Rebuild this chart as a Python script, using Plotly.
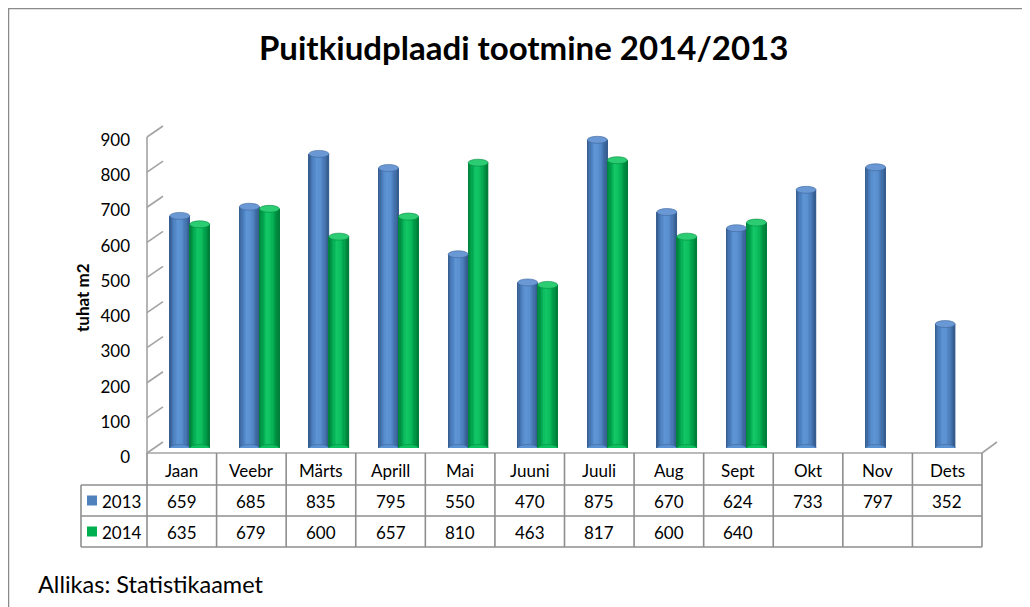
import plotly.graph_objects as go

# ---------------- data ----------------
categories = ["Jaan", "Veebr", "Märts", "Aprill", "Mai", "Juuni", "Juuli", "Aug", "Sept", "Okt", "Nov", "Dets"]
series_names = ["2013", "2014"]
values_2013 = [659, 685, 835, 795, 550, 470, 875, 670, 624, 733, 797, 352]
values_2014 = [635, 679, 600, 657, 810, 463, 817, 600, 640, None, None, None]
y_ticks = [0, 100, 200, 300, 400, 500, 600, 700, 800, 900]
title_text = "Puitkiudplaadi tootmine 2014/2013"
y_title = "tuhat m2"
source_text = "Allikas: Statistikaamet"

# ---------------- layout helpers (screen pixels -> paper) ----------------
W, H = 1030, 607
OFF = 8  # page body margin
def px(x):
    return (x - OFF) / W
def py(y):
    return 1 - (y - OFF) / H

FONT = "Lato, Carlito, 'Liberation Sans', sans-serif"
GRID = "#a3a3a3"
TABLE_LINE = "#8e8e8e"

# back wall (gridlines), front wall edge, bar plane (mid depth)
BACK_X = (163, 997); BACK_Y = (442, 125)
FRONT_X = (147, 982); FRONT_Y = (453, 137)
BAR_X = (155, 990); BAR_Y = (448, 131)
DX, DY = BACK_X[0] - FRONT_X[0], FRONT_Y[0] - BACK_Y[0]
YMAX = y_ticks[-1]

def y_front(v):
    return FRONT_Y[0] - v * (FRONT_Y[0] - FRONT_Y[1]) / YMAX

ncat = len(categories)
cat_px = (BAR_X[1] - BAR_X[0]) / ncat
bar_px = 20.0
bar_w = bar_px / cat_px

# cylinder shading: colour stops across the bar width (style only)
def hex2rgb(h):
    h = h.lstrip('#')
    return [int(h[i:i + 2], 16) for i in (0, 2, 4)]

def shade(stops, n):
    out = []
    for k in range(n):
        t = (k + 0.5) / n * (len(stops) - 1)
        i = min(int(t), len(stops) - 2)
        f = t - i
        a, b = hex2rgb(stops[i]), hex2rgb(stops[i + 1])
        out.append('#%02x%02x%02x' % tuple(round(a[j] + (b[j] - a[j]) * f) for j in range(3)))
    return out

NSTRIPE = 16
blue_stripes = shade(['#355a8a', '#4a7dbd', '#5e95d4', '#5a90cf', '#4676b2', '#34598a'], NSTRIPE)
green_stripes = shade(['#007d3a', '#00a44d', '#14c766', '#0cbe5e', '#009d48', '#007a38'], NSTRIPE)
blue_cap, blue_edge = '#6a98d4', '#3e679c'
green_cap, green_edge = '#2ccd72', '#008a40'

fig = go.Figure()

series = [
    (values_2013, blue_stripes, -bar_w, blue_cap, blue_edge, -bar_px),
    (values_2014, green_stripes, 0.0, green_cap, green_edge, 0.0),
]
for vals, stripes, off0, capc, edgec, offpx in series:
    n = len(stripes)
    for k, col in enumerate(stripes):
        fig.add_trace(go.Bar(
            x=categories, y=vals, width=bar_w / n * 1.15, offset=off0 + k * bar_w / n,
            marker=dict(color=col, line=dict(width=0)),
            xaxis="x3", yaxis="y3", showlegend=False, hoverinfo="skip"))

shapes = []
# cylinder caps (top ellipse) and rounded bottoms
for vals, stripes, off0, capc, edgec, offpx in series:
    for c, v in zip(categories, vals):
        if v is None:
            continue
        shapes.append(dict(type="circle", xref="x3", yref="y3", xsizemode="pixel", ysizemode="pixel",
                           xanchor=c, x0=offpx, x1=offpx + bar_px, yanchor=0, y0=-3.5, y1=3.5,
                           fillcolor=stripes[len(stripes) // 2], line=dict(color=stripes[0], width=0.5)))
        shapes.append(dict(type="circle", xref="x3", yref="y3", xsizemode="pixel", ysizemode="pixel",
                           xanchor=c, x0=offpx, x1=offpx + bar_px, yanchor=v, y0=-3.5, y1=3.5,
                           fillcolor=capc, line=dict(color=edgec, width=0.6)))

def pline(x0, y0, x1, y1, color=GRID, width=1.6, layer="above"):
    return dict(type="line", xref="paper", yref="paper", x0=px(x0), x1=px(x1), y0=py(y0), y1=py(y1),
                line=dict(color=color, width=width), layer=layer)

# left wall: front vertical edge and slanted gridlines
shapes.append(pline(FRONT_X[0], FRONT_Y[0], FRONT_X[0], FRONT_Y[1], layer="below"))
for v in y_ticks:
    yf = y_front(v)
    shapes.append(pline(FRONT_X[0], yf, FRONT_X[0] + DX, yf - DY, layer="below"))
# floor front edge and right slant
shapes.append(pline(FRONT_X[0], FRONT_Y[0], FRONT_X[1], FRONT_Y[0], layer="below"))
shapes.append(pline(FRONT_X[1], FRONT_Y[0], BACK_X[1], BACK_Y[0], layer="below"))

# ---------------- data table ----------------
col_w = (FRONT_X[1] - FRONT_X[0]) / ncat
bounds = [FRONT_X[0] + i * col_w for i in range(ncat + 1)]
row_y = [FRONT_Y[0], 485, 516, 547]
leg_x = 81
for b in bounds:
    shapes.append(pline(b, row_y[0], b, row_y[3], TABLE_LINE))
shapes.append(pline(leg_x, row_y[1], leg_x, row_y[3], TABLE_LINE))
for ry in row_y[1:]:
    shapes.append(pline(leg_x, ry, bounds[-1], ry, TABLE_LINE))

TFONT = dict(family=FONT, size=17, color="black")
annotations = []
for i, c in enumerate(categories):
    cx = px((bounds[i] + bounds[i + 1]) / 2)
    annotations.append(dict(text=c, x=cx, y=py(471), xref="paper", yref="paper", showarrow=False,
                            font=TFONT, xanchor="center", yanchor="middle"))
    for r, vals in enumerate([values_2013, values_2014]):
        if vals[i] is None:
            continue
        ry = (row_y[r + 1] + row_y[r + 2]) / 2 + 1
        annotations.append(dict(text=str(vals[i]), x=cx, y=py(ry), xref="paper", yref="paper", showarrow=False,
                                font=TFONT, xanchor="center", yanchor="middle"))
# legend keys in the table
for r, (name, colr) in enumerate(zip(series_names, ["#4F81BD", "#00B050"])):
    ry = (row_y[r + 1] + row_y[r + 2]) / 2
    shapes.append(dict(type="rect", xref="paper", yref="paper", x0=px(87), x1=px(97),
                       y0=py(ry + 5), y1=py(ry - 5), fillcolor=colr, line=dict(width=0)))
    annotations.append(dict(text=name, x=px(100), y=py(ry + 1), xref="paper", yref="paper", showarrow=False,
                            font=TFONT, xanchor="left", yanchor="middle"))

# title, axis title, source
annotations.append(dict(text="<b>" + title_text + "</b>", x=px(523), y=py(47), xref="paper", yref="paper",
                        showarrow=False, font=dict(family=FONT, size=33, color="black"),
                        xanchor="center", yanchor="middle"))
annotations.append(dict(text="<b>" + y_title + "</b>", x=px(82), y=py(297), xref="paper", yref="paper",
                        showarrow=False, textangle=-90, font=dict(family=FONT, size=17, color="black"),
                        xanchor="center", yanchor="middle"))
annotations.append(dict(text=source_text, x=px(36), y=py(584), xref="paper", yref="paper",
                        showarrow=False, font=dict(family=FONT, size=23.5, color="black"),
                        xanchor="left", yanchor="middle"))

# outer chart border
shapes.append(dict(type="rect", xref="paper", yref="paper", x0=0, x1=1, y0=0, y1=1,
                   line=dict(color="#8a8a8a", width=2.5), layer="below"))

fig.update_layout(
    width=W, height=H, margin=dict(l=0, r=0, t=0, b=0),
    paper_bgcolor="white", plot_bgcolor="rgba(0,0,0,0)",
    barmode="overlay", showlegend=False,
    font=dict(family=FONT, color="black"),
    shapes=shapes, annotations=annotations,
    # back wall gridlines
    xaxis=dict(domain=[px(BACK_X[0]), px(BACK_X[1])], range=[0, 1], visible=False, anchor="y"),
    yaxis=dict(domain=[py(BACK_Y[0]), py(BACK_Y[1])], range=[0, YMAX], tickvals=y_ticks,
               showgrid=True, gridcolor=GRID, gridwidth=1.6, zeroline=True, zerolinecolor=GRID,
               zerolinewidth=1.6, showticklabels=False, showline=False, ticks="", anchor="x",
               automargin=False),
    # bars (mid depth) + value labels
    xaxis3=dict(domain=[px(BAR_X[0]), px(BAR_X[1])], type="category", categoryorder="array",
                categoryarray=categories, range=[-0.5, ncat - 0.5], visible=False, anchor="y3"),
    yaxis3=dict(domain=[py(BAR_Y[0]), py(BAR_Y[1])], range=[0, YMAX], anchor="x3", tickvals=y_ticks,
                showgrid=False, zeroline=False, showline=False, ticks="", automargin=False,
                tickfont=dict(family=FONT, size=17, color="black"),
                ticklabelstandoff=24, ticklabelshift=9),
)

fig.write_html("out.html")
